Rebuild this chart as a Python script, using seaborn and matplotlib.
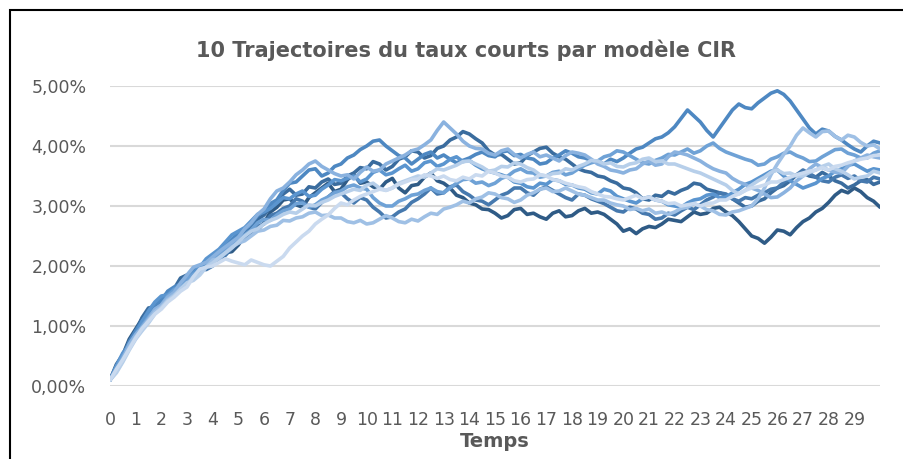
import numpy as np
import pandas as pd
import seaborn as sns
import matplotlib.pyplot as plt
from matplotlib.patches import Rectangle
from matplotlib.ticker import FuncFormatter

# temps en annees, pas de 0.25
temps = [i * 0.25 for i in range(121)]

# taux courts (en %), 10 valeurs par ligne
s1 = [0.10, 0.36, 0.52, 0.78, 0.95, 1.12, 1.22, 1.38, 1.45, 1.56,
      1.58, 1.72, 1.78, 1.80, 1.92, 2.02, 2.05, 2.18, 2.22, 2.24,
      2.35, 2.50, 2.58, 2.60, 2.72, 2.90, 2.98, 3.10, 3.12, 3.02,
      2.98, 3.14, 3.22, 3.30, 3.38, 3.24, 3.28, 3.44, 3.52, 3.38,
      3.40, 3.32, 3.28, 3.40, 3.46, 3.30, 3.22, 3.34, 3.36, 3.48,
      3.55, 3.42, 3.38, 3.30, 3.18, 3.14, 3.05, 3.02, 2.95, 2.94,
      2.88, 2.80, 2.84, 2.94, 2.96, 2.86, 2.88, 2.82, 2.78, 2.88,
      2.92, 2.82, 2.84, 2.92, 2.96, 2.88, 2.90, 2.86, 2.78, 2.70,
      2.58, 2.62, 2.54, 2.62, 2.66, 2.64, 2.70, 2.78, 2.76, 2.74,
      2.82, 2.90, 2.86, 2.88, 2.96, 2.98, 2.90, 2.84, 2.74, 2.62,
      2.50, 2.46, 2.38, 2.48, 2.60, 2.58, 2.52, 2.64, 2.74, 2.80,
      2.90, 2.96, 3.06, 3.18, 3.26, 3.22, 3.30, 3.24, 3.14, 3.08,
      2.98]
s2 = [0.10, 0.30, 0.48, 0.72, 0.90, 1.14, 1.30, 1.32, 1.40, 1.54,
      1.62, 1.80, 1.85, 1.82, 1.88, 2.02, 2.10, 2.22, 2.30, 2.34,
      2.42, 2.56, 2.62, 2.78, 2.85, 2.98, 3.05, 3.20, 3.28, 3.18,
      3.20, 3.32, 3.30, 3.40, 3.45, 3.36, 3.38, 3.50, 3.55, 3.64,
      3.62, 3.74, 3.70, 3.60, 3.66, 3.78, 3.82, 3.92, 3.90, 3.80,
      3.84, 3.96, 4.00, 4.10, 4.15, 4.24, 4.20, 4.12, 4.05, 3.92,
      3.85, 3.86, 3.78, 3.70, 3.72, 3.84, 3.90, 3.96, 3.98, 3.88,
      3.82, 3.78, 3.70, 3.62, 3.58, 3.56, 3.50, 3.48, 3.42, 3.38,
      3.30, 3.28, 3.22, 3.12, 3.10, 3.18, 3.16, 3.24, 3.20, 3.26,
      3.30, 3.38, 3.36, 3.28, 3.25, 3.22, 3.18, 3.12, 3.05, 2.98,
      3.00, 3.08, 3.12, 3.22, 3.30, 3.34, 3.42, 3.52, 3.55, 3.50,
      3.48, 3.56, 3.50, 3.42, 3.38, 3.30, 3.35, 3.42, 3.44, 3.36,
      3.40]
s3 = [0.10, 0.32, 0.45, 0.70, 0.88, 1.00, 1.18, 1.32, 1.38, 1.50,
      1.55, 1.70, 1.80, 1.84, 1.95, 1.94, 2.00, 2.12, 2.18, 2.30,
      2.40, 2.44, 2.55, 2.66, 2.70, 2.84, 2.88, 2.96, 3.00, 3.12,
      3.08, 2.98, 2.95, 3.06, 3.15, 3.24, 3.22, 3.12, 3.05, 3.14,
      3.10, 2.98, 2.90, 2.80, 2.82, 2.90, 2.95, 3.06, 3.12, 3.20,
      3.30, 3.20, 3.22, 3.32, 3.35, 3.24, 3.18, 3.10, 3.08, 3.02,
      3.10, 3.18, 3.22, 3.30, 3.30, 3.22, 3.18, 3.28, 3.32, 3.26,
      3.20, 3.14, 3.10, 3.20, 3.18, 3.12, 3.08, 3.04, 2.98, 2.92,
      2.90, 2.98, 2.95, 2.88, 2.86, 2.78, 2.80, 2.88, 2.85, 2.92,
      2.98, 2.94, 3.02, 3.10, 3.15, 3.22, 3.20, 3.12, 3.08, 3.14,
      3.12, 3.18, 3.22, 3.28, 3.30, 3.40, 3.45, 3.52, 3.60, 3.54,
      3.48, 3.42, 3.40, 3.48, 3.52, 3.46, 3.50, 3.42, 3.40, 3.48,
      3.45]
s4 = [0.10, 0.28, 0.50, 0.74, 0.92, 1.08, 1.20, 1.36, 1.42, 1.58,
      1.65, 1.70, 1.82, 1.92, 1.98, 2.08, 2.12, 2.26, 2.35, 2.44,
      2.55, 2.60, 2.70, 2.84, 2.92, 3.04, 3.10, 3.26, 3.38, 3.40,
      3.50, 3.60, 3.62, 3.50, 3.55, 3.66, 3.70, 3.80, 3.85, 3.94,
      4.00, 4.08, 4.10, 4.00, 3.92, 3.84, 3.80, 3.70, 3.78, 3.86,
      3.90, 3.80, 3.85, 3.78, 3.72, 3.76, 3.80, 3.86, 3.90, 3.84,
      3.82, 3.90, 3.92, 3.84, 3.86, 3.80, 3.78, 3.70, 3.72, 3.80,
      3.85, 3.92, 3.88, 3.82, 3.80, 3.76, 3.74, 3.70, 3.78, 3.74,
      3.80, 3.88, 3.95, 3.98, 4.05, 4.12, 4.15, 4.22, 4.32, 4.46,
      4.60, 4.50, 4.40, 4.26, 4.15, 4.30, 4.45, 4.60, 4.70, 4.64,
      4.62, 4.72, 4.80, 4.88, 4.92, 4.86, 4.75, 4.60, 4.45, 4.30,
      4.20, 4.28, 4.25, 4.16, 4.10, 4.02, 3.95, 3.90, 4.00, 4.08,
      4.05]
s5 = [0.10, 0.34, 0.55, 0.68, 0.85, 1.08, 1.25, 1.40, 1.50, 1.52,
      1.62, 1.66, 1.75, 1.88, 1.98, 2.12, 2.20, 2.28, 2.40, 2.52,
      2.58, 2.64, 2.75, 2.86, 2.90, 2.96, 3.05, 3.14, 3.12, 3.20,
      3.25, 3.16, 3.18, 3.28, 3.35, 3.44, 3.42, 3.46, 3.50, 3.40,
      3.45, 3.56, 3.60, 3.52, 3.55, 3.62, 3.68, 3.58, 3.62, 3.72,
      3.75, 3.66, 3.70, 3.78, 3.82, 3.74, 3.76, 3.68, 3.62, 3.58,
      3.55, 3.52, 3.48, 3.40, 3.38, 3.32, 3.30, 3.38, 3.36, 3.44,
      3.42, 3.36, 3.35, 3.30, 3.28, 3.22, 3.20, 3.28, 3.25, 3.16,
      3.12, 3.08, 3.05, 3.12, 3.15, 3.10, 3.08, 3.02, 3.00, 2.98,
      3.05, 3.10, 3.12, 3.18, 3.20, 3.14, 3.15, 3.22, 3.28, 3.36,
      3.40, 3.46, 3.52, 3.58, 3.60, 3.50, 3.42, 3.36, 3.30, 3.34,
      3.38, 3.46, 3.50, 3.58, 3.62, 3.68, 3.70, 3.64, 3.58, 3.62,
      3.60]
s6 = [0.10, 0.30, 0.50, 0.64, 0.80, 1.00, 1.15, 1.28, 1.35, 1.50,
      1.60, 1.66, 1.78, 1.86, 1.90, 2.00, 2.08, 2.20, 2.28, 2.34,
      2.45, 2.52, 2.60, 2.72, 2.78, 2.76, 2.85, 2.92, 2.95, 3.04,
      3.05, 2.98, 3.02, 3.10, 3.15, 3.22, 3.25, 3.32, 3.35, 3.30,
      3.28, 3.14, 3.05, 3.00, 3.00, 3.08, 3.12, 3.18, 3.20, 3.26,
      3.30, 3.24, 3.22, 3.30, 3.38, 3.44, 3.45, 3.38, 3.40, 3.34,
      3.38, 3.46, 3.50, 3.58, 3.62, 3.56, 3.55, 3.48, 3.50, 3.56,
      3.58, 3.52, 3.55, 3.62, 3.68, 3.72, 3.75, 3.82, 3.85, 3.92,
      3.90, 3.84, 3.78, 3.72, 3.70, 3.76, 3.80, 3.86, 3.85, 3.90,
      3.95, 3.88, 3.92, 4.00, 4.05, 3.96, 3.90, 3.86, 3.82, 3.78,
      3.75, 3.68, 3.70, 3.78, 3.82, 3.88, 3.90, 3.84, 3.80, 3.74,
      3.75, 3.82, 3.88, 3.94, 3.95, 3.88, 3.85, 3.80, 3.80, 3.88,
      3.92]
s7 = [0.10, 0.26, 0.46, 0.70, 0.86, 0.98, 1.12, 1.28, 1.35, 1.48,
      1.56, 1.72, 1.85, 1.98, 2.02, 2.06, 2.15, 2.24, 2.32, 2.40,
      2.48, 2.62, 2.72, 2.86, 2.95, 3.12, 3.25, 3.30, 3.40, 3.52,
      3.60, 3.70, 3.75, 3.66, 3.60, 3.54, 3.50, 3.52, 3.45, 3.56,
      3.65, 3.58, 3.60, 3.70, 3.75, 3.80, 3.85, 3.92, 3.95, 4.02,
      4.10, 4.26, 4.40, 4.30, 4.20, 4.08, 4.00, 3.96, 3.95, 3.88,
      3.85, 3.92, 3.95, 3.86, 3.80, 3.86, 3.90, 3.82, 3.85, 3.80,
      3.75, 3.84, 3.90, 3.88, 3.85, 3.78, 3.70, 3.66, 3.60, 3.58,
      3.55, 3.60, 3.62, 3.70, 3.75, 3.68, 3.70, 3.82, 3.90, 3.88,
      3.85, 3.80, 3.75, 3.68, 3.62, 3.58, 3.55, 3.46, 3.40, 3.36,
      3.30, 3.26, 3.20, 3.14, 3.15, 3.22, 3.30, 3.42, 3.50, 3.62,
      3.70, 3.64, 3.60, 3.56, 3.55, 3.66, 3.75, 3.80, 3.85, 3.82,
      3.80]
s8 = [0.10, 0.24, 0.42, 0.64, 0.82, 0.94, 1.10, 1.24, 1.32, 1.44,
      1.52, 1.60, 1.70, 1.82, 1.88, 1.98, 2.10, 2.12, 2.22, 2.32,
      2.38, 2.42, 2.50, 2.58, 2.60, 2.66, 2.68, 2.76, 2.75, 2.80,
      2.82, 2.88, 2.90, 2.84, 2.85, 2.80, 2.80, 2.74, 2.72, 2.76,
      2.70, 2.72, 2.78, 2.84, 2.80, 2.74, 2.72, 2.78, 2.75, 2.82,
      2.88, 2.86, 2.95, 2.98, 3.02, 3.08, 3.05, 3.12, 3.15, 3.22,
      3.20, 3.14, 3.12, 3.06, 3.10, 3.18, 3.22, 3.28, 3.30, 3.24,
      3.25, 3.30, 3.25, 3.20, 3.18, 3.14, 3.10, 3.10, 3.05, 3.02,
      3.00, 2.94, 2.96, 2.92, 2.95, 2.88, 2.90, 2.86, 2.90, 2.96,
      2.98, 3.04, 3.00, 2.94, 2.92, 2.86, 2.85, 2.90, 2.92, 2.96,
      3.00, 3.12, 3.30, 3.52, 3.70, 3.86, 4.00, 4.18, 4.30, 4.22,
      4.15, 4.24, 4.25, 4.16, 4.10, 4.18, 4.15, 4.06, 4.00, 4.02,
      3.95]
s9 = [0.10, 0.22, 0.40, 0.60, 0.78, 0.92, 1.05, 1.20, 1.30, 1.42,
      1.50, 1.62, 1.72, 1.76, 1.85, 1.98, 2.05, 2.14, 2.22, 2.30,
      2.40, 2.50, 2.58, 2.62, 2.70, 2.76, 2.80, 2.86, 2.90, 2.88,
      2.95, 3.02, 3.00, 3.06, 3.10, 3.16, 3.20, 3.24, 3.28, 3.26,
      3.35, 3.38, 3.30, 3.26, 3.30, 3.38, 3.42, 3.46, 3.50, 3.48,
      3.55, 3.62, 3.60, 3.64, 3.68, 3.74, 3.75, 3.70, 3.65, 3.58,
      3.60, 3.66, 3.65, 3.72, 3.70, 3.64, 3.60, 3.52, 3.50, 3.54,
      3.55, 3.62, 3.60, 3.66, 3.70, 3.76, 3.75, 3.70, 3.72, 3.66,
      3.65, 3.70, 3.72, 3.78, 3.80, 3.74, 3.75, 3.70, 3.70, 3.66,
      3.62, 3.58, 3.55, 3.50, 3.45, 3.40, 3.35, 3.26, 3.20, 3.26,
      3.35, 3.42, 3.48, 3.56, 3.60, 3.54, 3.55, 3.50, 3.50, 3.56,
      3.60, 3.66, 3.70, 3.62, 3.58, 3.52, 3.45, 3.48, 3.50, 3.58,
      3.55]
s10 = [0.10, 0.28, 0.44, 0.62, 0.80, 0.96, 1.08, 1.20, 1.28, 1.40,
       1.48, 1.58, 1.65, 1.82, 1.95, 1.98, 2.00, 2.06, 2.12, 2.08,
       2.05, 2.02, 2.10, 2.06, 2.02, 2.00, 2.08, 2.16, 2.30, 2.40,
       2.50, 2.58, 2.70, 2.78, 2.85, 2.96, 3.05, 3.02, 3.10, 3.16,
       3.20, 3.24, 3.28, 3.26, 3.30, 3.36, 3.40, 3.44, 3.45, 3.52,
       3.50, 3.46, 3.50, 3.44, 3.42, 3.48, 3.45, 3.52, 3.50, 3.58,
       3.55, 3.50, 3.48, 3.42, 3.40, 3.44, 3.45, 3.52, 3.50, 3.44,
       3.42, 3.38, 3.35, 3.32, 3.30, 3.24, 3.20, 3.16, 3.15, 3.12,
       3.10, 3.14, 3.18, 3.12, 3.15, 3.10, 3.08, 3.04, 3.05, 3.00,
       3.02, 3.04, 3.00, 3.04, 3.05, 3.10, 3.10, 3.16, 3.20, 3.26,
       3.30, 3.32, 3.35, 3.40, 3.40, 3.44, 3.48, 3.52, 3.55, 3.58,
       3.60, 3.64, 3.60, 3.66, 3.68, 3.72, 3.75, 3.78, 3.80, 3.84,
       3.85]

trajectoires = [s1, s2, s3, s4, s5, s6, s7, s8, s9, s10]
couleurs = ['#2F5B86', '#3A6C9E', '#4679AE', '#4E88C2', '#5B95CF',
            '#6FA2D6', '#8AB2DF', '#9FC0E5', '#B7CFEA', '#CADAEF']
x_labels = [str(i) for i in range(30)]

rows = []
for k, traj in enumerate(trajectoires):
    for t, r in zip(temps, traj):
        rows.append({'Temps': t, 'Taux': r, 'Serie': f'S{k + 1}'})
df = pd.DataFrame(rows)

sns.set_style('white')
fig = plt.figure(figsize=(9.04, 4.59), dpi=100)
ax = fig.add_axes([110 / 904, 1 - 386 / 459, 770 / 904, 300 / 459])

sns.lineplot(data=df, x='Temps', y='Taux', hue='Serie', palette=couleurs,
             linewidth=2.6, legend=False, ax=ax)

ax.set_xlim(0, 30)
ax.set_ylim(0, 5)
ax.set_yticks(range(6))
ax.yaxis.set_major_formatter(FuncFormatter(lambda v, p: f'{v:.2f}%'.replace('.', ',')))
ax.set_xticks(range(30))
ax.set_xticklabels(x_labels)
ax.tick_params(axis='both', length=0, labelsize=12.5, colors='#595959')
ax.tick_params(axis='y', pad=17)
ax.tick_params(axis='x', pad=18)
ax.grid(axis='y', color='#D9D9D9', linewidth=1.5)
ax.set_axisbelow(True)
for sp in ax.spines.values():
    sp.set_visible(False)

ax.set_xlabel('Temps', fontsize=14, fontweight='bold', color='#595959', labelpad=2)
ax.set_ylabel('')
fig.text(0.515, 0.891, '10 Trajectoires du taux courts par modèle CIR',
         ha='center', va='center', fontsize=15, fontweight='bold', color='#595959')

# cadre du graphique
fig.patches.append(Rectangle((10 / 904, -0.1), 1.2, 449 / 459 + 0.1, transform=fig.transFigure,
                             fill=False, edgecolor='black', linewidth=1.5))

fig.savefig('out.png', dpi=100)
